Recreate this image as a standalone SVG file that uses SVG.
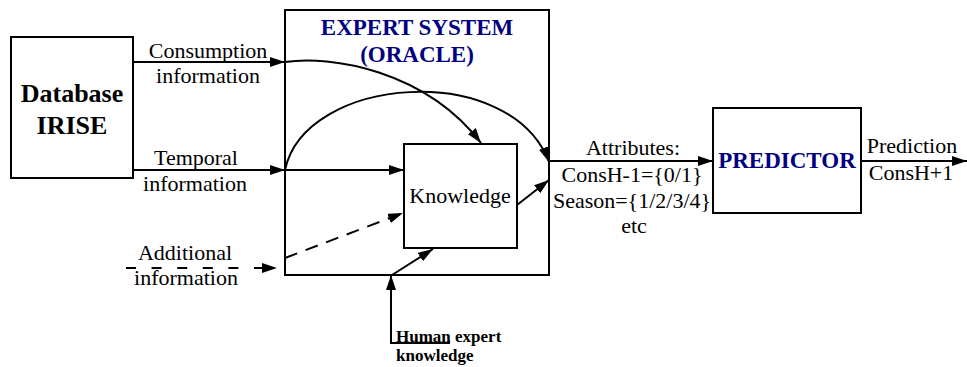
<svg xmlns="http://www.w3.org/2000/svg" width="967" height="367" viewBox="0 0 967 367">
<style>
.box{fill:#fff;stroke:#000;stroke-width:2}
.ln{fill:none;stroke:#000;stroke-width:2}
text{font-family:"Liberation Serif","Times New Roman",serif}
.t{font-size:22px;fill:#000;text-anchor:middle}
.b{font-weight:bold;fill:#000}
.navy{fill:#000080}
</style>
<defs>
<marker id="ah" viewBox="0 0 15 10" refX="15" refY="5" markerWidth="15" markerHeight="10" markerUnits="userSpaceOnUse" orient="auto">
<path d="M0,0 L15,5 L0,10 Z" fill="#000"/>
</marker>
</defs>
<g id="expert-system">
<rect class="box" x="285" y="10" width="264" height="265"/>
<text class="b navy" x="417" y="35" font-size="23" text-anchor="middle">EXPERT SYSTEM</text>
<text class="b navy" x="417" y="62" font-size="23" text-anchor="middle">(ORACLE)</text>
</g>
<g id="database">
<rect class="box" x="11" y="37" width="122" height="141"/>
<text class="b" x="72" y="102" font-size="26" text-anchor="middle">Database</text>
<text class="b" x="72" y="134" font-size="26" text-anchor="middle">IRISE</text>
</g>
<g id="knowledge">
<rect class="box" x="404" y="144" width="113" height="104"/>
<text class="t" x="460" y="203">Knowledge</text>
</g>
<g id="predictor">
<rect class="box" x="713" y="108" width="148" height="105"/>
<text class="b navy" x="787" y="168" font-size="23" text-anchor="middle">PREDICTOR</text>
</g>
<g id="connectors">
<line class="ln" x1="133" y1="62" x2="285" y2="62" marker-end="url(#ah)"/>
<path class="ln" d="M285,62 C330,55 425,70 481,143" marker-end="url(#ah)"/>
<line class="ln" x1="133" y1="170" x2="285" y2="170" marker-end="url(#ah)"/>
<line class="ln" x1="285" y1="170" x2="404" y2="170" marker-end="url(#ah)"/>
<path class="ln" d="M285,170 C305,75 510,60 549,162" marker-end="url(#ah)"/>
<line class="ln" x1="126" y1="268" x2="277" y2="268" stroke-dasharray="10 15.6" marker-end="url(#ah)"/>
<line class="ln" x1="285" y1="258" x2="403" y2="213" stroke-dasharray="13 9" marker-end="url(#ah)"/>
<line class="ln" x1="517" y1="205" x2="549" y2="180" marker-end="url(#ah)"/>
<line class="ln" x1="549" y1="161" x2="713" y2="161" marker-end="url(#ah)"/>
<line class="ln" x1="861" y1="161" x2="967" y2="161" marker-end="url(#ah)"/>
<path class="ln" d="M450,343 L391,343 L391,275" marker-end="url(#ah)"/>
<line class="ln" x1="392" y1="275" x2="433" y2="249" marker-end="url(#ah)"/>
</g>
<g id="labels">
<text class="t" x="208" y="58">Consumption</text>
<text class="t" x="208" y="83">information</text>
<text class="t" x="196" y="165">Temporal</text>
<text class="t" x="195" y="191">information</text>
<text class="t" x="185" y="260">Additional</text>
<text class="t" x="186" y="285">information</text>
<text class="t" x="633" y="155">Attributes:</text>
<text class="t" x="632" y="182">ConsH-1={0/1}</text>
<text class="t" x="632" y="208">Season={1/2/3/4}</text>
<text class="t" x="634" y="233">etc</text>
<text class="t" x="912" y="153">Prediction</text>
<text class="t" x="911" y="180">ConsH+1</text>
<text class="b" x="396" y="342" font-size="17">Human expert</text>
<text class="b" x="396" y="361" font-size="17">knowledge</text>
</g>
</svg>
